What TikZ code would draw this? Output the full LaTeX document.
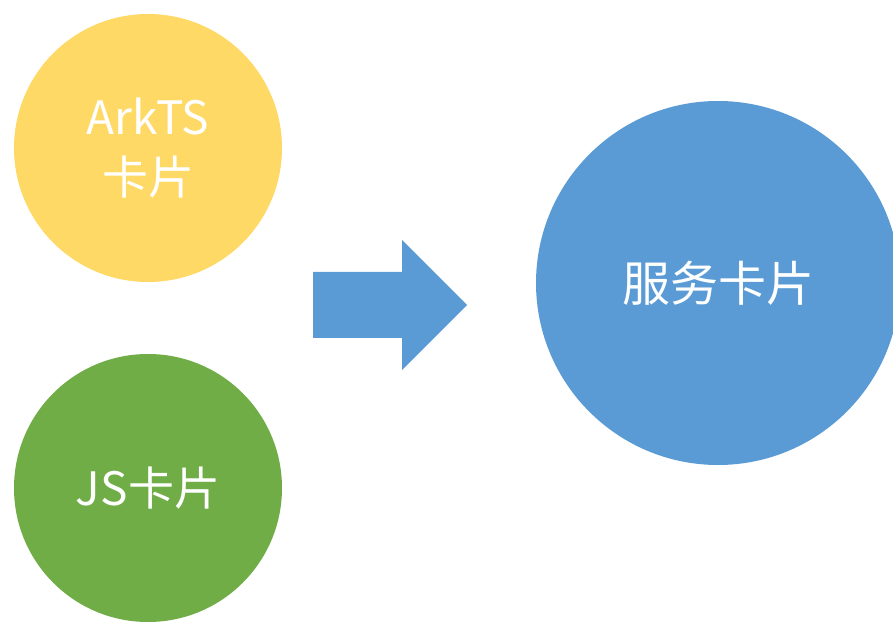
\documentclass[tikz,border=0pt]{standalone}
\usepackage{fontspec}
\newfontfamily\cjk{Noto Sans CJK SC}
\definecolor{cyellow}{HTML}{FFD966}
\definecolor{cgreen}{HTML}{70AD47}
\definecolor{cblue}{HTML}{5B9BD5}
\begin{document}
\begin{tikzpicture}[x=1pt,y=1pt,
  blob/.style={circle,inner sep=0pt,text=white,align=center,font=\cjk\fontsize{46}{60}\selectfont}]
\useasboundingbox (0,0) rectangle (893,624);
\begin{scope}
\clip (0,0) rectangle (893,624);
\node[blob,fill=cyellow,minimum size=268] (ark) at (148,476) {ArkTS\\卡片};
\node[blob,fill=cgreen,minimum size=268] (js) at (148,136) {JS卡片};
\node[blob,fill=cblue,minimum size=364,font=\cjk\fontsize{48}{60}\selectfont] (svc) at (718,341) {服务卡片};
\fill[cblue] (313,352) -- (402,352) -- (402,384) -- (467,319) -- (402,254) -- (402,286) -- (313,286) -- cycle;
\end{scope}
\end{tikzpicture}
\end{document}
